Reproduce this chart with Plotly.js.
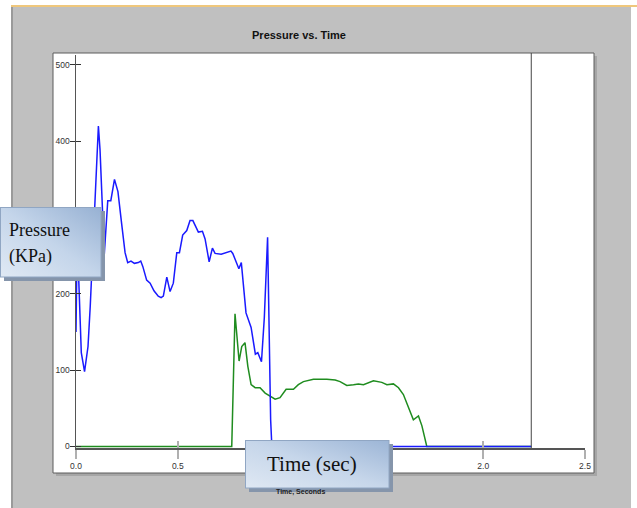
<!DOCTYPE html>
<html>
<head>
<meta charset="utf-8">
<script src="https://cdn.plot.ly/plotly-3.0.1.min.js"></script>
<style>
  html, body { margin: 0; padding: 0; background: #ffffff; }
  #chart { width: 637px; height: 508px; }
</style>
</head>
<body>
<div id="chart"></div>
<script>
// Inlet pressure trace (blue), seconds / kPa
const inletTime = [0.000, 0.004, 0.010, 0.013, 0.026, 0.042, 0.059, 0.070, 0.092, 0.103,
  0.110, 0.118, 0.130, 0.139, 0.156, 0.171, 0.189, 0.206, 0.225, 0.241,
  0.254, 0.270, 0.287, 0.306, 0.318, 0.328, 0.347, 0.364, 0.383, 0.404,
  0.418, 0.429, 0.446, 0.462, 0.478, 0.495, 0.508, 0.524, 0.544, 0.560,
  0.574, 0.601, 0.621, 0.634, 0.654, 0.670, 0.683, 0.713, 0.761, 0.770,
  0.800, 0.812, 0.835, 0.860, 0.881, 0.893, 0.911, 0.925, 0.941, 0.948,
  0.956, 0.962, 2.236];
const inletPressure = [150, 235, 245, 223, 123, 98, 131, 184, 315, 385,
  420, 389, 300, 252, 322, 322, 350, 334, 290, 254,
  241, 243, 240, 241, 243, 236, 218, 214, 204, 197,
  195, 197, 222, 203, 214, 254, 254, 277, 283, 296,
  296, 281, 282, 272, 242, 260, 253, 252, 256, 253,
  233, 241, 175, 156, 121, 123, 111, 169, 274, 157,
  35, 0, 0];

// Outlet pressure trace (green)
const outletTime = [0.000, 0.765, 0.781, 0.801, 0.814, 0.830, 0.844, 0.860, 0.880, 0.904,
  0.929, 0.953, 0.978, 1.002, 1.019, 1.032, 1.068, 1.092, 1.117, 1.166,
  1.232, 1.273, 1.297, 1.330, 1.363, 1.387, 1.412, 1.461, 1.502, 1.527,
  1.559, 1.584, 1.608, 1.633, 1.657, 1.682, 1.699, 1.723, 2.236];
const outletPressure = [0, 0, 174, 112, 131, 136, 105, 81, 77, 77,
  70, 66, 62, 64, 70, 75, 75, 81, 85, 88,
  88, 87, 85, 80, 81, 82, 81, 86, 84, 81,
  82, 77, 68, 51, 35, 40, 27, 0, 0];

// Cursor position (end of recording)
const cursorTime = 2.236;

// Axis ticks
const xTicks = [0, 0.5, 1.0, 1.5, 2.0, 2.5];
const xTickText = ['0.0', '0.5', '1.0', '1.5', '2.0', '2.5'];
const yTicks = [0, 100, 200, 300, 400, 500];

const W = 637, H = 508;
const M = { l: 76, r: 52, t: 55, b: 60 };
const PW = W - M.l - M.r, PH = H - M.t - M.b;
// pixel -> paper coordinate helpers for frame decorations
const px = x => (x - M.l) / PW;
const py = y => (H - M.b - y) / PH;

const sans = "'Liberation Sans', Arial, sans-serif";
const serif = "'Liberation Serif', 'Times New Roman', serif";

function boxSvg(w, h, dark, mid, light, edge, shadow) {
  const s = `<svg xmlns='http://www.w3.org/2000/svg' width='${w}' height='${h}' viewBox='0 0 ${w} ${h}' preserveAspectRatio='none'>` +
    `<defs><linearGradient id='g' x1='1' y1='0' x2='0' y2='1'>` +
    `<stop offset='0' stop-color='${dark}'/><stop offset='0.5' stop-color='${mid}'/><stop offset='1' stop-color='${light}'/>` +
    `</linearGradient></defs>` +
    `<rect x='4' y='4' width='${w - 4}' height='${h - 4}' fill='${shadow}'/>` +
    `<rect x='0.5' y='0.5' width='${w - 4.5}' height='${h - 4.5}' fill='url(#g)' stroke='${edge}' stroke-width='1'/>` +
    `</svg>`;
  return 'data:image/svg+xml;charset=utf-8,' + encodeURIComponent(s);
}

const traces = [
  {
    x: outletTime, y: outletPressure, type: 'scatter', mode: 'lines',
    line: { color: '#1f8c1f', width: 1.5 }, hoverinfo: 'skip', showlegend: false
  },
  {
    x: inletTime, y: inletPressure, type: 'scatter', mode: 'lines',
    line: { color: '#1a1aff', width: 1.5 }, hoverinfo: 'skip', showlegend: false
  },
  // carrier for the overlay axes that draw the inner half of the ticks
  { x: [], y: [], xaxis: 'x2', yaxis: 'y2', type: 'scatter', mode: 'lines', hoverinfo: 'skip', showlegend: false }
];

const layout = {
  width: W, height: H,
  margin: M,
  paper_bgcolor: '#c0c0c0',
  plot_bgcolor: 'rgba(0,0,0,0)',
  showlegend: false,
  title: {
    text: 'Pressure vs. Time',
    xref: 'container', yref: 'container',
    x: 299 / W, xanchor: 'center',
    y: 1 - 35 / H, yanchor: 'middle',
    font: { family: sans, size: 11, color: '#111111', weight: 'bold' }
  },
  xaxis: {
    range: [0, 2.5], tickvals: xTicks, ticktext: xTickText,
    ticks: 'outside', ticklen: 9, tickwidth: 1.5, tickcolor: '#b0b0b0',
    showline: true, linecolor: '#555555', linewidth: 1.5,
    showgrid: false, zeroline: false, layer: 'below traces',
    tickfont: { family: sans, size: 8.5, color: '#333333' }
  },
  yaxis: {
    range: [-2, 513], tickvals: yTicks,
    ticks: 'outside', ticklen: 5, tickwidth: 1, tickcolor: '#333333',
    ticklabelstandoff: -2,
    showline: true, linecolor: '#555555', linewidth: 1.5,
    showgrid: false, zeroline: false, layer: 'below traces',
    tickfont: { family: sans, size: 8.5, color: '#333333' }
  },
  xaxis2: {
    overlaying: 'x', matches: 'x', anchor: 'y', tickvals: xTicks,
    ticks: 'inside', ticklen: 7, tickwidth: 1.5, tickcolor: '#b0b0b0',
    showticklabels: false, showline: false, showgrid: false, zeroline: false
  },
  yaxis2: {
    overlaying: 'y', matches: 'y', anchor: 'x', side: 'left', tickvals: yTicks,
    ticks: 'inside', ticklen: 5, tickwidth: 1, tickcolor: '#333333',
    showticklabels: false, showline: false, showgrid: false, zeroline: false
  },
  shapes: [
    // white surround outside the grey panel
    { type: 'rect', xref: 'paper', yref: 'paper', layer: 'below', x0: px(0), x1: px(11), y0: py(H), y1: py(0), fillcolor: '#ffffff', line: { width: 0 } },
    { type: 'rect', xref: 'paper', yref: 'paper', layer: 'below', x0: px(631), x1: px(W), y0: py(H), y1: py(0), fillcolor: '#ffffff', line: { width: 0 } },
    { type: 'rect', xref: 'paper', yref: 'paper', layer: 'below', x0: px(0), x1: px(W), y0: py(5), y1: py(0), fillcolor: '#ffffff', line: { width: 0 } },
    { type: 'rect', xref: 'paper', yref: 'paper', layer: 'below', x0: px(11), x1: px(W), y0: py(7), y1: py(5), fillcolor: '#efc77c', line: { width: 0 } },
    { type: 'rect', xref: 'paper', yref: 'paper', layer: 'below', x0: px(11), x1: px(13), y0: py(H), y1: py(7), fillcolor: '#9a9a9a', line: { width: 0 } },
    // white chart frame with its shadow
    { type: 'rect', xref: 'paper', yref: 'paper', layer: 'below', x0: px(56), x1: px(597), y0: py(476), y1: py(56), fillcolor: '#a6a6a6', line: { width: 0 } },
    { type: 'rect', xref: 'paper', yref: 'paper', layer: 'below', x0: px(53), x1: px(594), y0: py(473), y1: py(53), fillcolor: '#ffffff', line: { color: '#5c5c5c', width: 1 } },
    // cursor line
    { type: 'line', xref: 'x', yref: 'paper', layer: 'above', x0: cursorTime, x1: cursorTime, y0: py(H - M.b), y1: py(53), line: { color: '#444444', width: 1 } }
  ],
  images: [
    {
      source: boxSvg(105, 74, '#97b1d3', '#c4d5ea', '#e0e9f4', '#90a6c3', '#8595ab'),
      xref: 'paper', yref: 'paper', x: px(0), y: py(207), sizex: 105 / PW, sizey: 74 / PH,
      xanchor: 'left', yanchor: 'top', sizing: 'stretch', layer: 'above'
    },
    {
      source: boxSvg(148, 52, '#9cb5d6', '#c6d6ea', '#dfe8f3', '#90a6c3', '#8595ab'),
      xref: 'paper', yref: 'paper', x: px(245), y: py(440), sizex: 148 / PW, sizey: 52 / PH,
      xanchor: 'left', yanchor: 'top', sizing: 'stretch', layer: 'above'
    }
  ],
  annotations: [
    {
      text: 'Time, Seconds', xref: 'paper', yref: 'paper', x: px(300), y: py(492),
      xanchor: 'center', yanchor: 'middle', showarrow: false,
      font: { family: sans, size: 7, color: '#222222', weight: 'bold' }
    },
    {
      text: 'Pressure', xref: 'paper', yref: 'paper', x: px(7), y: py(230),
      xanchor: 'left', yanchor: 'middle', showarrow: false,
      font: { family: serif, size: 18, color: '#111111' }
    },
    {
      text: '(KPa)', xref: 'paper', yref: 'paper', x: px(7), y: py(256),
      xanchor: 'left', yanchor: 'middle', showarrow: false,
      font: { family: serif, size: 18, color: '#111111' }
    },
    {
      text: 'Time (sec)', xref: 'paper', yref: 'paper', x: px(311.5), y: py(464),
      xanchor: 'center', yanchor: 'middle', showarrow: false,
      font: { family: serif, size: 21, color: '#111111' }
    }
  ]
};

Plotly.newPlot('chart', traces, layout, { staticPlot: true, displayModeBar: false });
</script>
</body>
</html>
